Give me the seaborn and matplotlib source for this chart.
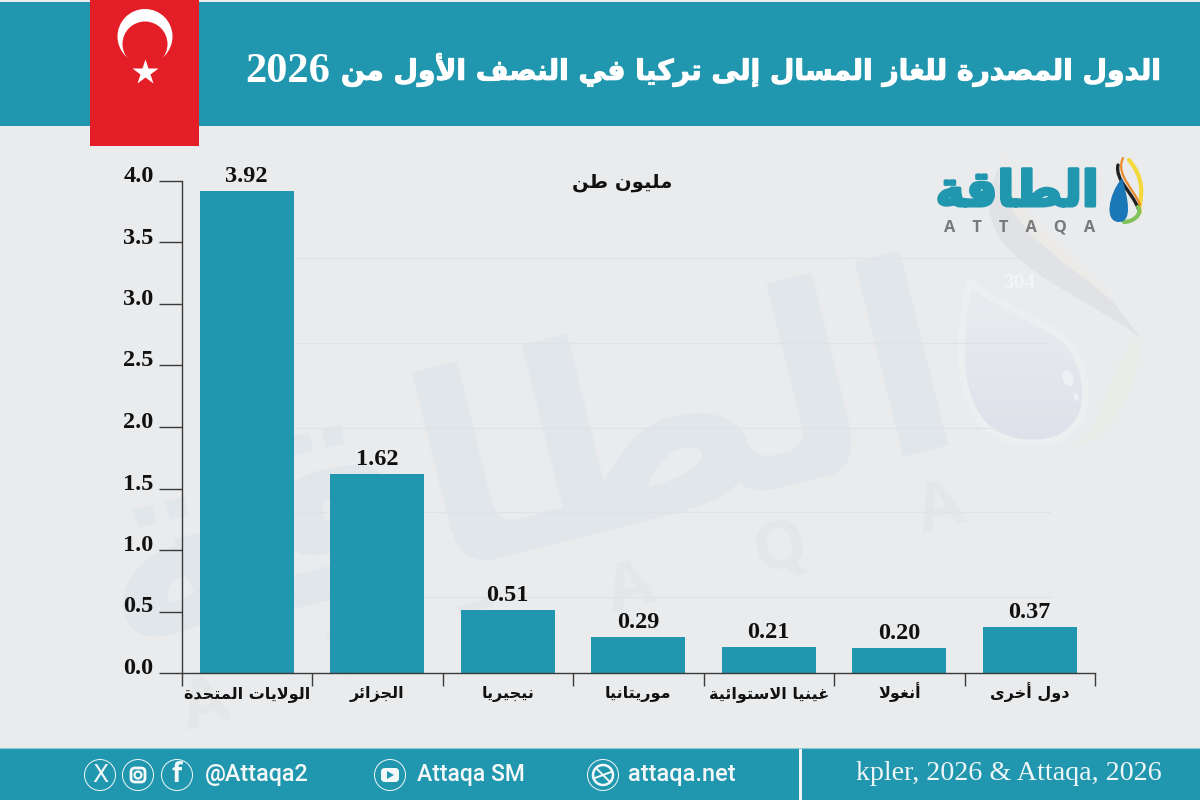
import matplotlib
matplotlib.use("Agg")
import matplotlib.pyplot as plt
import matplotlib.patheffects as pe
import numpy as np
import seaborn as sns
from matplotlib.colors import LinearSegmentedColormap
from matplotlib.path import Path
from matplotlib.patches import PathPatch, Circle, Rectangle, FancyBboxPatch, Ellipse, Polygon
from matplotlib.transforms import ScaledTranslation

# Chart data (million tonnes)
categories = ["الولايات المتحدة", "الجزائر", "نيجيريا", "موريتانيا",
              "غينيا الاستوائية", "أنغولا", "دول أخرى"]
values = [3.92, 1.62, 0.51, 0.29, 0.21, 0.20, 0.37]
y_ticks = [0.0, 0.5, 1.0, 1.5, 2.0, 2.5, 3.0, 3.5, 4.0]
title_ar = "الدول المصدرة للغاز المسال إلى تركيا في النصف الأول من"
title_year = "2026"
unit_label = "مليون طن"
brand_ar = "الطاقة"
source_label = "kpler, 2026 & Attaqa, 2026"

TEAL = "#2097AE"
BG = "#EAEBED"
RED = "#E31E26"
MARK = "#E1E6EA"

# Arabic shaping: matplotlib lays glyphs out left to right with no joining,
# so words are converted to presentation forms and put in visual order.
RIGHT_JOIN = {"ء": 0xFE80, "آ": 0xFE81, "أ": 0xFE83, "ؤ": 0xFE85, "إ": 0xFE87, "ا": 0xFE8D,
              "ة": 0xFE93, "د": 0xFEA9, "ذ": 0xFEAB, "ر": 0xFEAD, "ز": 0xFEAF, "و": 0xFEED, "ى": 0xFEEF}
DUAL_JOIN = {"ئ": 0xFE89, "ب": 0xFE8F, "ت": 0xFE95, "ث": 0xFE99, "ج": 0xFE9D, "ح": 0xFEA1, "خ": 0xFEA5,
             "س": 0xFEB1, "ش": 0xFEB5, "ص": 0xFEB9, "ض": 0xFEBD, "ط": 0xFEC1, "ظ": 0xFEC5, "ع": 0xFEC9,
             "غ": 0xFECD, "ف": 0xFED1, "ق": 0xFED5, "ك": 0xFED9, "ل": 0xFEDD, "م": 0xFEE1, "ن": 0xFEE5,
             "ه": 0xFEE9, "ي": 0xFEF1}
LAM_ALEF = {"آ": 0xFEF5, "أ": 0xFEF7, "إ": 0xFEF9, "ا": 0xFEFB}


def shape_word(word):
    glyphs = []
    joins_prev = False
    i = 0
    while i < len(word):
        ch = word[i]
        if ch == "ل" and i + 1 < len(word) and word[i + 1] in LAM_ALEF:
            glyphs.append(chr(LAM_ALEF[word[i + 1]] + (1 if joins_prev else 0)))
            joins_prev = False
            i += 2
            continue
        if ch in RIGHT_JOIN:
            offset = 1 if joins_prev and ch != "ء" else 0
            glyphs.append(chr(RIGHT_JOIN[ch] + offset))
            joins_prev = False
        elif ch in DUAL_JOIN:
            joins_next = i + 1 < len(word) and (word[i + 1] in DUAL_JOIN or (word[i + 1] in RIGHT_JOIN and word[i + 1] != "ء"))
            form = {(False, False): 0, (True, False): 1, (False, True): 2, (True, True): 3}[(joins_prev, joins_next)]
            glyphs.append(chr(DUAL_JOIN[ch] + form))
            joins_prev = joins_next
        else:
            glyphs.append(ch)
            joins_prev = False
        i += 1
    return "".join(reversed(glyphs))


def ar(text):
    return " ".join(shape_word(w) for w in reversed(text.split(" ")))


sns.set_theme(style="white")
SERIF = ["Liberation Serif", "DejaVu Sans"]
ARABIC = ["DejaVu Sans"]
plt.rcParams["font.family"] = SERIF

fig = plt.figure(figsize=(12, 8), dpi=100, facecolor=BG)


def pixel_axes(z):
    a = fig.add_axes([0, 0, 1, 1], zorder=z)
    a.set_xlim(0, 1200)
    a.set_ylim(800, 0)
    a.axis("off")
    return a


back = pixel_axes(0)
front = pixel_axes(3)
renderer = fig.canvas.get_renderer()


def fit(txt, width):
    ext = txt.get_window_extent(renderer)
    txt.set_fontsize(txt.get_fontsize() * width / ext.width)
    return txt


def curve(points):
    codes = [Path.MOVETO] + [Path.CURVE4] * (len(points) - 1)
    return Path(points, codes)


# Faint guide lines and watermark behind the bars
for gy in (258, 343, 428, 512, 597):
    back.plot([293, 1050], [gy, gy], color="#E0E2E5", lw=0.9, zorder=2)

wm = back.text(525, 472, ar(brand_ar), family=ARABIC, weight="bold", color=MARK,
               ha="center", va="center", fontsize=100, rotation_mode="anchor", zorder=1)
fit(wm, 880)
wm.set_rotation(14)
for letter, lx, ly in zip("ATTAQA", (206, 350, 482, 631, 780, 941), (707, 657, 630, 590, 550, 510)):
    back.text(lx, ly, letter, family="Open Sans", weight="bold", color="#E4E6E8", fontsize=48,
              rotation=15, ha="center", va="center", zorder=1)

# Large pale droplet and swooshes on the right
back.add_patch(PathPatch(curve([(1007, 153), (975, 200), (1040, 230), (1113, 302), (1122, 312), (1131, 325),
                                (1140, 337), (1060, 280), (945, 250), (1007, 153)]),
                         fc="#E0E2E5", ec="none", zorder=1))
back.add_patch(PathPatch(curve([(1007, 153), (1005, 215), (1070, 245), (1113, 302), (1060, 255), (985, 220), (1007, 153)]),
                         fc="#ECEAE7", ec="none", zorder=1))
back.add_patch(PathPatch(curve([(1140, 337), (1140, 400), (1100, 440), (1075, 447), (1110, 420), (1105, 370), (1140, 337)]),
                         fc="#EBEDE8", ec="none", zorder=1))
drop = PathPatch(curve([(970, 280), (955, 345), (950, 443), (1033, 443), (1100, 443), (1095, 370), (1063, 337),
                        (1020, 310), (985, 300), (970, 280)]),
                 fc="none", ec="#EDEEF0", lw=5, zorder=1.5)
back.add_patch(drop)
fade = LinearSegmentedColormap.from_list("fade", ["#EAEDEF", "#DEE1EA"])
shade = back.imshow(np.linspace(0, 1, 64).reshape(-1, 1), cmap=fade, aspect="auto",
                    extent=(950, 1095, 445, 278), zorder=1.4, interpolation="bilinear")
shade.set_clip_path(drop.get_path(), back.transData)
back.set_xlim(0, 1200)
back.set_ylim(800, 0)
back.add_patch(Ellipse((1068, 378), 11, 16, angle=-20, fc="#EFF0F3", ec="none", zorder=2))
back.add_patch(Ellipse((1076, 397), 5, 8, angle=-20, fc="#EFF0F3", ec="none", zorder=2))
back.text(1019, 283, "304", weight="bold", color="#F3F4F5", fontsize=15.5, ha="center", va="center", zorder=3)

# Bar chart
left, right, y0, y4 = 181.5, 1095.0, 673.0, 181.0
ax = fig.add_axes([left / 1200, 1 - y0 / 800, (right - left) / 1200, (y0 - y4) / 800], zorder=1)
ax.patch.set_alpha(0)
sns.barplot(x=[ar(c) for c in categories], y=values, color=TEAL, saturation=1, width=0.72, linewidth=0, ax=ax)
ax.set_xlim(-0.5, len(values) - 0.5)
ax.set_ylim(0, 4)
sns.despine(ax=ax, top=True, right=True)
for side in ("left", "bottom"):
    ax.spines[side].set_color("#3A3A3A")
    ax.spines[side].set_linewidth(1.0)

ax.set_yticks(y_ticks)
ax.set_yticklabels([f"{v:.1f}" for v in y_ticks], fontsize=17.5, fontweight="bold", color="#111111")
ax.tick_params(axis="y", length=16.5, width=1.0, color="#3A3A3A", pad=3.5, left=True)
up = ScaledTranslation(0, 7 / 100, fig.dpi_scale_trans)
for lab in ax.get_yticklabels():
    lab.set_transform(lab.get_transform() + up)

ax.set_xticks(range(len(values)))
ax.set_xticklabels([ar(c) for c in categories], family=ARABIC, fontsize=11.5, fontweight="bold",
                   color="#111111", va="baseline")
ax.set_xticks([i - 0.5 for i in range(len(values) + 1)], minor=True)
ax.tick_params(axis="x", which="major", length=0, pad=18, bottom=False)
ax.tick_params(axis="x", which="minor", length=9.5, width=1.0, color="#3A3A3A", bottom=True)
ax.set_xlabel("")
ax.set_ylabel("")
ax.bar_label(ax.containers[0], fmt="%.2f", padding=3, fontsize=17.5, fontweight="bold", color="#111111")

# Unit caption
back.text(622, 182, ar(unit_label), family=ARABIC, weight="bold", fontsize=14, color="#111111",
          ha="center", va="center", zorder=3)

# Header band with flag and title
front.add_patch(Rectangle((0, 2), 1200, 124, fc=TEAL, ec="none"))
front.add_patch(Rectangle((90, 0), 109, 146, fc=RED, ec="none"))
front.add_patch(Circle((145, 36.5), 27.5, fc="white", ec="none"))
front.add_patch(Circle((145, 44), 22.5, fc=RED, ec="none"))
front.plot([145], [71.5], marker="*", ms=19, color="white", mec="none")

head = front.text(1160, 70, ar(title_ar), family=ARABIC, weight="bold", color="white", fontsize=28,
                  ha="right", va="center")
fit(head, 820)
head.set_path_effects([pe.withStroke(linewidth=0.8, foreground="white")])
front.text(288, 72, title_year, weight="bold", color="white", fontsize=30.5, ha="center", va="center")

# Logo block
logo = back.text(1017, 192, ar(brand_ar), family=ARABIC, weight="bold", color=TEAL, fontsize=40,
                 ha="center", va="center", zorder=4)
fit(logo, 163)
logo.set_path_effects([pe.withStroke(linewidth=2.2, foreground=TEAL)])
logo_tag = back.text(1020, 228, "A    T    T    A    Q    A", family="Open Sans", weight="bold",
                     color="#77797C", fontsize=8, ha="center", va="center", zorder=4)
fit(logo_tag, 150)
for colour, lw, pts in (("#F4D93C", 3.0, [(1129, 160), (1150, 185), (1137, 205), (1140, 212)]),
                        ("#E98A2B", 1.6, [(1123, 158), (1115, 175), (1135, 190), (1140, 205)]),
                        ("#222222", 2.4, [(1118, 165), (1115, 180), (1132, 192), (1138, 208)]),
                        ("#7FC25A", 3.0, [(1138, 207), (1143, 215), (1132, 222), (1124, 222)])):
    back.add_patch(PathPatch(curve(pts), fc="none", ec=colour, lw=lw, capstyle="round", zorder=4))
back.add_patch(PathPatch(curve([(1122, 178), (1108, 195), (1104, 222), (1119, 222), (1133, 222), (1128, 198), (1122, 178)]),
                         fc="#1B78B8", ec="none", zorder=5))

# Footer band
front.add_patch(Rectangle((0, 748), 1200, 52, fc=TEAL, ec="none"))
front.plot([0, 1200], [748, 748], color="#8CCAD5", lw=0.8)
front.add_patch(Rectangle((799, 746), 3, 54, fc="#F2F4F5", ec="none"))
FOOT = "#F4F8F9"
for cx in (100, 138, 177, 390, 603):
    front.add_patch(Circle((cx, 775), 15.5, fc="none", ec=FOOT, lw=0.7))
front.text(100, 775, "X", family="DejaVu Sans", color=FOOT, fontsize=17, ha="center", va="center")
front.add_patch(FancyBboxPatch((131, 768), 14, 14, boxstyle="round,pad=0,rounding_size=4", fc="none", ec=FOOT, lw=2))
front.add_patch(Circle((138, 775), 3.5, fc="none", ec=FOOT, lw=1.6))
front.text(177, 775, "f", family="Open Sans", weight="bold", color=FOOT, fontsize=19, ha="center", va="center")
front.add_patch(FancyBboxPatch((381, 768), 18, 14, boxstyle="round,pad=0,rounding_size=4", fc=FOOT, ec="none"))
front.add_patch(Polygon([(387, 771), (387, 779), (394, 775)], closed=True, fc=TEAL, ec="none"))
front.add_patch(Circle((603, 775), 10, fc="none", ec=FOOT, lw=1.8))
front.plot([596, 610], [768, 782], color=FOOT, lw=1.4)
front.plot([595, 611], [778, 772], color=FOOT, lw=1.4)
for s, x0, w in (("@Attaqa2", 205, 104), ("Attaqa SM", 417, 108), ("attaqa.net", 628, 108)):
    t = front.text(x0, 775, s, family="Roboto", weight=500, color=FOOT, fontsize=16, ha="left", va="center")
    fit(t, w)
src = front.text(1162, 773, source_label, color="#EEF5F6", fontsize=19, ha="right", va="center")
fit(src, 305)

fig.savefig("out.png", dpi=100, facecolor=BG)
